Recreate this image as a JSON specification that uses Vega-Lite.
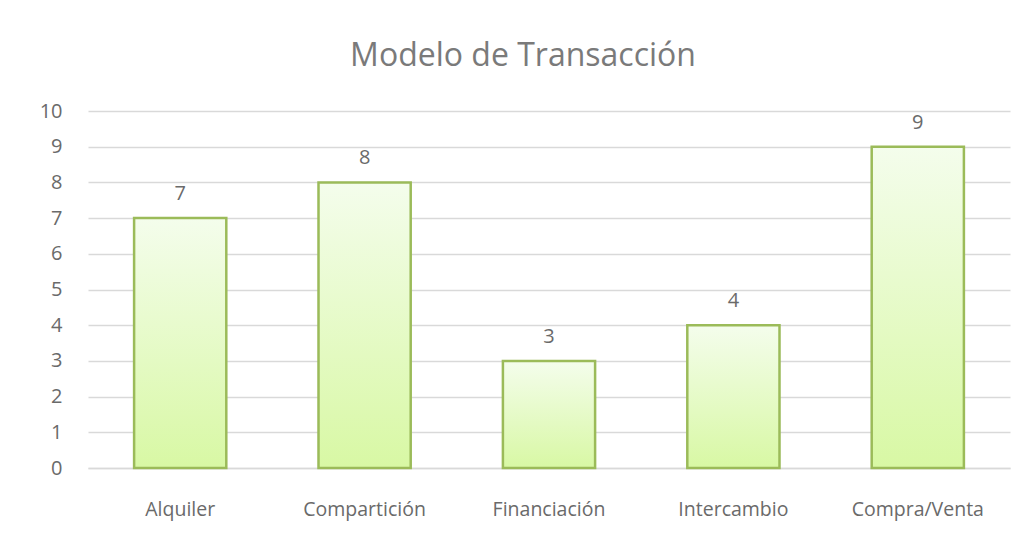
{
  "$schema": "https://vega.github.io/schema/vega-lite/v6.json",
  "width": 922,
  "height": 357,
  "autosize": {"type": "none"},
  "padding": {"left": 88, "top": 111, "right": 19, "bottom": 79},
  "background": "white",
  "title": {
    "text": "Modelo de Transacción",
    "font": "Open Sans",
    "fontSize": 32,
    "fontWeight": "normal",
    "color": "#7a7a7a",
    "anchor": "middle",
    "offset": 28,
    "dx": -26
  },
  "data": {
    "values": [
      {"modelo": "Alquiler", "valor": 7},
      {"modelo": "Compartición", "valor": 8},
      {"modelo": "Financiación", "valor": 3},
      {"modelo": "Intercambio", "valor": 4},
      {"modelo": "Compra/Venta", "valor": 9}
    ]
  },
  "encoding": {
    "x": {
      "field": "modelo",
      "type": "nominal",
      "sort": null,
      "scale": {"paddingInner": 0.5, "paddingOuter": 0.25},
      "axis": {
        "title": null,
        "labelAngle": 0,
        "labelFont": "Open Sans",
        "labelFontSize": 19.5,
        "labelColor": "#6a6a6a",
        "labelPadding": 32,
        "ticks": false,
        "domainColor": "#d9d9d9",
        "domainWidth": 1.5
      }
    },
    "y": {
      "field": "valor",
      "type": "quantitative",
      "scale": {"domain": [0, 10]},
      "axis": {
        "title": null,
        "values": [0, 1, 2, 3, 4, 5, 6, 7, 8, 9, 10],
        "labelFont": "Open Sans",
        "labelFontSize": 20,
        "labelColor": "#6a6a6a",
        "labelPadding": 26,
        "ticks": false,
        "domain": false,
        "gridColor": "#d9d9d9",
        "gridWidth": 1.5
      }
    }
  },
  "layer": [
    {
      "mark": {
        "type": "bar",
        "stroke": "#9bbb59",
        "strokeWidth": 2.5,
        "color": {
          "gradient": "linear",
          "x1": 0, "y1": 0, "x2": 0, "y2": 1,
          "stops": [
            {"offset": 0, "color": "#f4fdec"},
            {"offset": 1, "color": "#d8f8a4"}
          ]
        }
      }
    },
    {
      "mark": {
        "type": "text",
        "dy": -24,
        "font": "Open Sans",
        "fontSize": 20,
        "color": "#6a6a6a"
      },
      "encoding": {"text": {"field": "valor", "type": "quantitative"}}
    }
  ],
  "config": {"view": {"stroke": null}}
}
